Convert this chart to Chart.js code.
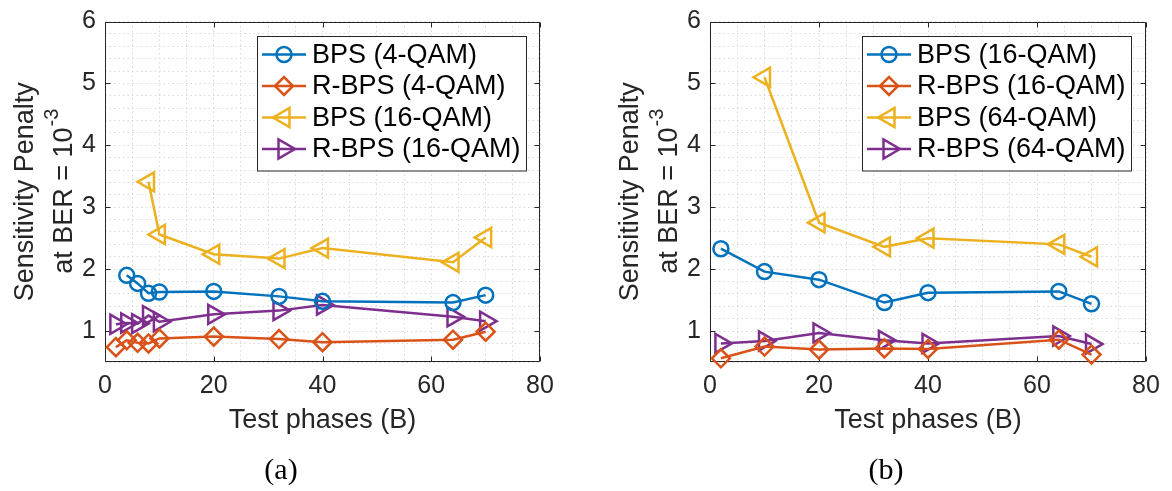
<!DOCTYPE html>
<html>
<head>
<meta charset="utf-8">
<script src="https://cdn.jsdelivr.net/npm/chart.js@4.4.1/dist/chart.umd.min.js"></script>
<style>
  html, body { margin: 0; padding: 0; background: #fff; }
  .row { display: flex; width: 1172px; height: 491px; }
  .cell { position: relative; width: 586px; height: 491px; }
</style>
</head>
<body>
<div class="row">
  <div class="cell"><canvas id="chartA"></canvas></div>
  <div class="cell"><canvas id="chartB"></canvas></div>
</div>
<script>
// --- (a) 4-QAM / 16-QAM ---
const phasesA_bps4 = [4, 6, 8, 10, 20, 32, 40, 64, 70];
const penaltyA_bps4 = [1.90, 1.77, 1.61, 1.63, 1.64, 1.56, 1.48, 1.46, 1.58];
const phasesA_rbps4 = [2, 4, 6, 8, 10, 20, 32, 40, 64, 70];
const penaltyA_rbps4 = [0.74, 0.85, 0.81, 0.80, 0.88, 0.91, 0.87, 0.82, 0.86, 0.99];
const phasesA_bps16 = [8, 10, 20, 32, 40, 64, 70];
const penaltyA_bps16 = [3.41, 2.56, 2.24, 2.17, 2.34, 2.11, 2.51];
const phasesA_rbps16 = [2, 4, 6, 8, 10, 20, 32, 40, 64, 70];
const penaltyA_rbps16 = [1.11, 1.13, 1.12, 1.25, 1.15, 1.27, 1.33, 1.42, 1.23, 1.16];

// --- (b) 16-QAM / 64-QAM ---
const phasesB = [2, 10, 20, 32, 40, 64, 70];
const penaltyB_bps16 = [2.33, 1.96, 1.83, 1.46, 1.62, 1.64, 1.44];
const penaltyB_rbps16 = [0.56, 0.75, 0.70, 0.72, 0.71, 0.86, 0.62];
const phasesB_bps64 = [10, 20, 32, 40, 64, 70];
const penaltyB_bps64 = [5.10, 2.75, 2.36, 2.50, 2.40, 2.20];
const penaltyB_rbps64 = [0.80, 0.84, 0.97, 0.85, 0.80, 0.92, 0.79];

const labelsA = ['BPS (4-QAM)', 'R-BPS (4-QAM)', 'BPS (16-QAM)', 'R-BPS (16-QAM)'];
const labelsB = ['BPS (16-QAM)', 'R-BPS (16-QAM)', 'BPS (64-QAM)', 'R-BPS (64-QAM)'];

// ticks
const xTickLabels = [0, 20, 40, 60, 80];
const yTickLabels = [1, 2, 3, 4, 5, 6];

const COLORS = ['#0072BD', '#D95319', '#EDB120', '#7E2F8E'];
// marqueurs façon matlab : o, diamant, triangle gauche, triangle droite
const MARKERS = [
    { pointStyle: 'circle', rotation: 0, radius: 7.5 },
    { pointStyle: 'rectRot', rotation: 0, radius: 9 },
    { pointStyle: 'triangle', rotation: -90, radius: 11 },
    { pointStyle: 'triangle', rotation: 90, radius: 11 }
];

const SANS = '"Liberation Sans", Arial, Helvetica, sans-serif';
const INK = '#262626';
const GRID = '#d9d9d9';

const toPoints = (xs, ys) => xs.map((x, i) => ({ x: x, y: ys[i] }));

function makeDatasets(labels, series) {
    return series.map((s, i) => ({
        label: labels[i],
        data: toPoints(s[0], s[1]),
        borderColor: COLORS[i],
        borderWidth: 2.5,
        pointStyle: MARKERS[i].pointStyle,
        pointRotation: MARKERS[i].rotation,
        pointRadius: MARKERS[i].radius,
        pointHoverRadius: MARKERS[i].radius,
        pointBorderWidth: 2.5,
        pointBorderColor: COLORS[i],
        pointBackgroundColor: 'rgba(0,0,0,0)',
        tension: 0,
        clip: false
    }));
}

// cadre + petites graduations vers l'intérieur
const framePlugin = {
    id: 'frame',
    beforeDatasetsDraw(chart) {
        const { ctx, chartArea: a, scales: { x, y } } = chart;
        const L = Math.round(a.left) + 0.5, R = Math.round(a.right) - 0.5;
        const T = Math.round(a.top) + 0.5, B = Math.round(a.bottom) - 0.5;
        ctx.save();
        ctx.strokeStyle = INK;
        ctx.lineWidth = 1;
        ctx.beginPath();
        xTickLabels.forEach(v => {
            const px = Math.round(x.getPixelForValue(v)) + 0.5;
            ctx.moveTo(px, B); ctx.lineTo(px, B - 5);
            ctx.moveTo(px, T); ctx.lineTo(px, T + 5);
        });
        yTickLabels.forEach(v => {
            const py = Math.round(y.getPixelForValue(v)) + 0.5;
            ctx.moveTo(L, py); ctx.lineTo(L + 5, py);
            ctx.moveTo(R, py); ctx.lineTo(R - 5, py);
        });
        ctx.rect(L, T, R - L, B - T);
        ctx.stroke();
        ctx.restore();
    }
};

function drawMarker(ctx, m, x, y, color) {
    ctx.strokeStyle = color;
    ctx.fillStyle = 'rgba(0,0,0,0)';
    ctx.lineWidth = 2.5;
    Chart.helpers.drawPoint(ctx, { pointStyle: m.pointStyle, rotation: m.rotation, radius: m.radius, borderWidth: 2.5 }, x, y);
}

// légende matlab, titre Y avec exposant, légende (a)/(b)
const decorPlugin = {
    id: 'decor',
    afterDraw(chart, args, opts) {
        const { ctx, chartArea: a } = chart;
        ctx.save();

        // legend box
        const bx = a.left + 152, by = a.top + 14.5, bw = 269, bh = 134.5;
        ctx.fillStyle = '#fff';
        ctx.fillRect(bx, by, bw, bh);
        ctx.strokeStyle = INK;
        ctx.lineWidth = 1;
        ctx.strokeRect(Math.round(bx) + 0.5, Math.round(by) + 0.5, bw, bh);
        chart.data.datasets.forEach((ds, i) => {
            const ry = by + 18.5 + i * 31.5;
            ctx.strokeStyle = ds.borderColor;
            ctx.lineWidth = 2.5;
            ctx.beginPath();
            ctx.moveTo(bx + 5, ry);
            ctx.lineTo(bx + 49, ry);
            ctx.stroke();
            drawMarker(ctx, MARKERS[i], bx + 27, ry, ds.borderColor);
            ctx.fillStyle = '#000';
            ctx.font = '27px ' + SANS;
            ctx.textAlign = 'left';
            ctx.textBaseline = 'middle';
            ctx.fillText(ds.label, bx + 55, ry + 1);
        });

        // y title (2 lines, rotated)
        const cy = (a.top + a.bottom) / 2;
        ctx.fillStyle = INK;
        ctx.textBaseline = 'alphabetic';
        ctx.save();
        ctx.translate(a.left - 72, cy);
        ctx.rotate(-Math.PI / 2);
        ctx.font = '27px ' + SANS;
        ctx.textAlign = 'center';
        ctx.fillText('Sensitivity Penalty', 0, 0);
        ctx.restore();

        ctx.save();
        ctx.translate(a.left - 33, cy);
        ctx.rotate(-Math.PI / 2);
        const main = 'at BER = 10', sup = '-3';
        ctx.font = '27px ' + SANS;
        const wMain = ctx.measureText(main).width;
        ctx.font = '20px ' + SANS;
        const wSup = ctx.measureText(sup).width;
        const x0 = -(wMain + wSup) / 2;
        ctx.textAlign = 'left';
        ctx.font = '27px ' + SANS;
        ctx.fillText(main, x0, 0);
        ctx.font = '20px ' + SANS;
        ctx.fillText(sup, x0 + wMain + 1, -14);
        ctx.restore();

        // caption
        ctx.fillStyle = '#000';
        ctx.font = '30px "Liberation Serif", "Times New Roman", serif';
        ctx.textAlign = 'center';
        ctx.textBaseline = 'middle';
        ctx.fillText(opts.caption, a.left + 176, 471);

        ctx.restore();
    }
};

function createPenaltyChart(id, labels, series, caption, yWidth, padRight) {
    const canvas = document.getElementById(id);
    return new Chart(canvas.getContext('2d'), {
        type: 'line',
        data: { datasets: makeDatasets(labels, series) },
        plugins: [framePlugin, decorPlugin],
        options: {
            responsive: true,
            maintainAspectRatio: false,
            animation: false,
            events: [],
            layout: { padding: { left: 0, right: padRight, top: 13, bottom: 0 } },
            plugins: {
                legend: { display: false },
                tooltip: { enabled: false },
                decor: { caption: caption }
            },
            scales: {
                x: {
                    type: 'linear',
                    min: 0,
                    max: 80,
                    afterFit: s => { s.height = 129; },
                    ticks: {
                        stepSize: 5,
                        autoSkip: false,
                        maxRotation: 0,
                        minRotation: 0,
                        padding: 9,
                        color: INK,
                        font: { family: SANS, size: 25, lineHeight: 1.2 },
                        callback: v => (xTickLabels.includes(v) ? String(v) : '')
                    },
                    grid: { color: GRID, lineWidth: 1, drawTicks: false, borderDash: [1.5, 3] },
                    border: { display: false, dash: [1.5, 3] },
                    title: {
                        display: true,
                        text: 'Test phases (B)',
                        color: INK,
                        font: { family: SANS, size: 27, lineHeight: 1.2 },
                        padding: { top: 0, bottom: 54 }
                    }
                },
                y: {
                    min: 0.5,
                    max: 6,
                    afterFit: s => { s.width = yWidth; },
                    ticks: {
                        stepSize: 0.2,
                        autoSkip: false,
                        padding: 9,
                        color: INK,
                        font: { family: SANS, size: 25, lineHeight: 1 },
                        callback: v => {
                            const r = Math.round(v);
                            return (Math.abs(v - r) < 1e-6 && yTickLabels.includes(r)) ? String(r) : '';
                        }
                    },
                    grid: { color: GRID, lineWidth: 1, drawTicks: false, borderDash: [1.5, 3] },
                    border: { display: false, dash: [1.5, 3] }
                }
            }
        }
    });
}

createPenaltyChart('chartA', labelsA, [
    [phasesA_bps4, penaltyA_bps4],
    [phasesA_rbps4, penaltyA_rbps4],
    [phasesA_bps16, penaltyA_bps16],
    [phasesA_rbps16, penaltyA_rbps16]
], '(a)', 105, 46);

createPenaltyChart('chartB', labelsB, [
    [phasesB, penaltyB_bps16],
    [phasesB, penaltyB_rbps16],
    [phasesB_bps64, penaltyB_bps64],
    [phasesB, penaltyB_rbps64]
], '(b)', 124, 26);
</script>
</body>
</html>
